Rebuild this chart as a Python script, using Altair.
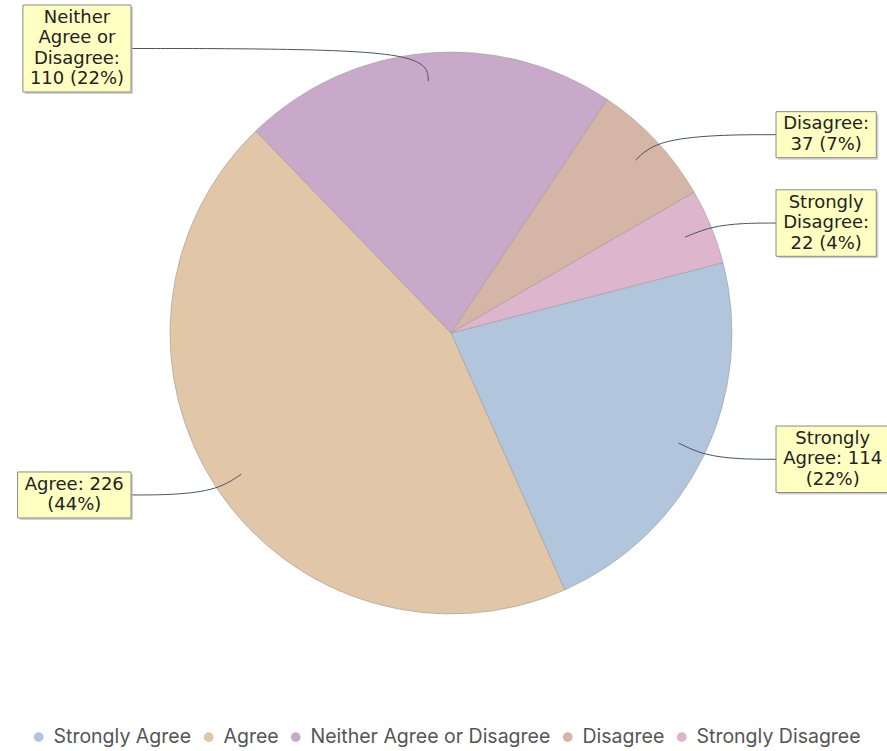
import math
import altair as alt
import pandas as pd

# ---- data ----
categories = ["Strongly Agree", "Agree", "Neither Agree or Disagree", "Disagree", "Strongly Disagree"]
counts = [114, 226, 110, 37, 22]
colors = ["#b1c5dd", "#e2c6a8", "#c8a9c9", "#d5b5a5", "#ddb6cd"]

# ---- layout / style ----
W, H = 887, 751
CX, CY, R = 451, 333, 281
START = math.radians(75.5)
LABEL_R = 290
FS = 18
LH = 20.5
LEFT_EDGE = 131
RIGHT_EDGE = 776
WRAP_EM = 6.0

# DejaVu Sans advance widths (em)
CW = {" ": .318, "(": .390, ")": .390, "%": .950, ":": .337,
      "A": .684, "D": .770, "N": .748, "S": .635,
      "a": .613, "e": .615, "g": .635, "h": .634, "i": .278, "l": .278,
      "n": .634, "o": .612, "r": .411, "s": .521, "t": .392, "y": .592}
for d in "0123456789":
    CW[d] = .636


def tw(s):
    return sum(CW.get(c, .6) for c in s)


def wrap(s, maxem):
    lines, cur = [], ""
    for w in s.split(" "):
        cand = w if not cur else cur + " " + w
        if tw(cand) <= maxem or not cur:
            cur = cand
        else:
            lines.append(cur)
            cur = w
    lines.append(cur)
    return lines


total = sum(counts)
pie_rows, link_rows, box_rows = [], [], []
cum = 0
for i, (cat, v) in enumerate(zip(categories, counts)):
    a0 = START + 2 * math.pi * cum / total
    cum += v
    a1 = START + 2 * math.pi * cum / total
    mid = (a0 + a1) / 2
    s, c = math.sin(mid), math.cos(mid)
    pct = round(100 * v / total)
    lines = wrap(f"{cat}: {v} ({pct}%)", WRAP_EM)
    bw = max(tw(l) for l in lines) * FS + 14
    bh = len(lines) * LH + 5
    ly = CY - LABEL_R * c
    ly = max(ly, bh / 2 + 5)
    if s < 0:
        bx, bx2 = LEFT_EDGE - bw, LEFT_EDGE
        ex = LEFT_EDGE
    else:
        bx, bx2 = RIGHT_EDGE, RIGHT_EDGE + bw
        ex = RIGHT_EDGE
    p0 = (CX + 0.9 * R * s, CY - 0.9 * R * c)
    p1 = (CX + 1.0 * R * s, CY - 1.0 * R * c)
    p2 = ((p1[0] + ex) / 2, ly)
    p3 = (ex, ly)
    for k, p in enumerate([p0, p1, p2, p3]):
        link_rows.append({"category": cat, "step": k, "px": p[0], "py": p[1]})
    box_rows.append({"category": cat, "bx": bx, "bx2": bx2, "by": ly - bh / 2, "by2": ly + bh / 2,
                     "tx": (bx + bx2) / 2, "ty": ly - (len(lines) - 1) * LH / 2,
                     "label": "\n".join(lines)})
    pie_rows.append({"category": cat, "count": v, "idx": i})

pie_df = pd.DataFrame(pie_rows)
link_df = pd.DataFrame(link_rows)
box_df = pd.DataFrame(box_rows)

xs = alt.Scale(domain=[0, W], range=[0, W], nice=False, zero=False)
ys = alt.Scale(domain=[0, H], range=[0, H], nice=False, zero=False)

pie = alt.Chart(pie_df).mark_arc(radius=R, stroke="#9c9c9c", strokeWidth=0.6).encode(
    theta=alt.Theta("count:Q", stack=True, scale=alt.Scale(range=[START, START + 2 * math.pi])),
    order=alt.Order("idx:Q"),
    color=alt.Color("category:N", sort=categories,
                    scale=alt.Scale(domain=categories, range=colors),
                    legend=alt.Legend(title=None, orient="none", direction="horizontal",
                                      legendX=29, legendY=727, symbolType="circle",
                                      symbolSize=95, symbolStrokeWidth=0,
                                      labelFont="Inter", labelFontSize=19.5,
                                      labelColor="#555555", columnPadding=7,
                                      labelOffset=5, labelLimit=500)),
    x=alt.datum(CX, scale=xs, axis=None),
    y=alt.datum(CY, scale=ys, axis=None),
)

links = alt.Chart(link_df).mark_line(interpolate="basis", color="#4a5264", strokeWidth=1).encode(
    x=alt.X("px:Q", scale=xs, axis=None),
    y=alt.Y("py:Q", scale=ys, axis=None),
    detail="category:N",
    order="step:Q",
)

shadow = alt.Chart(box_df).mark_rect(color="#bdbdbd", opacity=0.7, xOffset=2, x2Offset=2,
                                     yOffset=2, y2Offset=2).encode(
    x=alt.X("bx:Q", scale=xs, axis=None), x2="bx2:Q",
    y=alt.Y("by:Q", scale=ys, axis=None), y2="by2:Q",
)

boxes = alt.Chart(box_df).mark_rect(fill="#ffffc2", stroke="#8a8a8a", strokeWidth=1).encode(
    x=alt.X("bx:Q", scale=xs, axis=None), x2="bx2:Q",
    y=alt.Y("by:Q", scale=ys, axis=None), y2="by2:Q",
)

texts = alt.Chart(box_df).mark_text(font="DejaVu Sans", fontSize=FS, lineHeight=LH,
                                    lineBreak="\n", align="center", baseline="middle",
                                    color="#222222").encode(
    x=alt.X("tx:Q", scale=xs, axis=None),
    y=alt.Y("ty:Q", scale=ys, axis=None),
    text="label:N",
)

chart = alt.layer(pie, links, shadow, boxes, texts).properties(
    width=W, height=H, padding=0,
    autosize=alt.AutoSizeParams(type="none"),
).configure_view(stroke=None)

chart.save("out.html", embed_options={"renderer": "svg", "actions": False})
